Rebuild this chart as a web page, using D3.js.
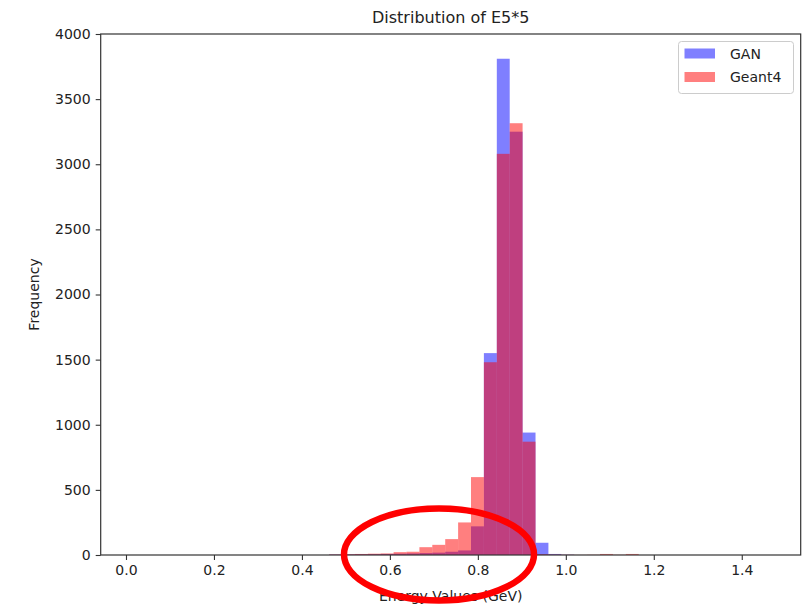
<!DOCTYPE html>
<html>
<head>
<meta charset="utf-8">
<script src="https://cdn.jsdelivr.net/npm/d3@7"></script>
<style>
  html, body { margin: 0; padding: 0; background: #fff; }
  svg { display: block; }
  text { font-family: "DejaVu Sans", sans-serif; fill: #222; }
</style>
</head>
<body>
<svg id="chart" width="802" height="605"></svg>
<script>
// ---- data ----
const binEdges = [0.4618, 0.4911, 0.5204, 0.5498, 0.5791, 0.6084, 0.6378, 0.6671, 0.6964,
  0.7258, 0.7551, 0.7844, 0.8137, 0.8431, 0.8724, 0.9017, 0.9311, 0.9604, 0.9897,
  1.0191, 1.0484, 1.0777, 1.1071, 1.1364, 1.1657, 1.1950];
const ganCounts = [3, 4, 5, 6, 8, 10, 12, 15, 18, 25, 35, 220, 1550, 3810, 3250, 940, 94, 8, 2, 0, 0, 0, 0, 0, 0];
const geantCounts = [4, 6, 8, 10, 12, 22, 25, 60, 78, 122, 250, 598, 1480, 3080, 3315, 870, 6, 3, 2, 1, 2, 8, 2, 8, 0];
const xTicks = [0.0, 0.2, 0.4, 0.6, 0.8, 1.0, 1.2, 1.4];
const yTicks = [0, 500, 1000, 1500, 2000, 2500, 3000, 3500, 4000];
const seriesNames = ["GAN", "Geant4"];
const titleText = "Distribution of E5*5";
const xLabel = "Energy Values (GeV)";
const yLabel = "Frequency";

// ---- layout ----
const svg = d3.select("#chart");
const L = 100.7, R = 800.7, T = 34, B = 555;
const x = d3.scaleLinear().domain([-0.0575, 1.534]).range([L, R]);
const y = d3.scaleLinear().domain([0, 4000]).range([B, T]);
const colors = ["rgba(0,0,255,0.5)", "rgba(255,0,0,0.5)"];

svg.append("rect").attr("width", 802).attr("height", 605).attr("fill", "#fff");

const series = [ganCounts, geantCounts];
series.forEach((counts, si) => {
  const bins = counts.map((c, i) => ({x0: binEdges[i], x1: binEdges[i + 1], c})).filter(d => d.c > 0);
  svg.append("g").selectAll("rect").data(bins).join("rect")
    .attr("x", d => x(d.x0))
    .attr("width", d => x(d.x1) - x(d.x0))
    .attr("y", d => y(d.c))
    .attr("height", d => y(0) - y(d.c))
    .attr("fill", colors[si]);
});

// axes
const xAxis = d3.axisBottom(x).tickValues(xTicks).tickFormat(d3.format(".1f")).tickSize(5).tickPadding(5);
const yAxis = d3.axisLeft(y).tickValues(yTicks).tickFormat(d3.format("d")).tickSize(5).tickPadding(5);
const gx = svg.append("g").attr("transform", `translate(0,${B})`).call(xAxis);
const gy = svg.append("g").attr("transform", `translate(${L},0)`).call(yAxis);
[gx, gy].forEach(g => {
  g.select(".domain").remove();
  g.selectAll(".tick line").attr("stroke", "#333").attr("stroke-width", 1.1);
  g.selectAll(".tick text").attr("font-size", 14).attr("fill", "#222").style("font-family", "DejaVu Sans, sans-serif");
});

// frame
svg.append("rect").attr("x", L).attr("y", T).attr("width", R - L).attr("height", B - T)
  .attr("fill", "none").attr("stroke", "#333").attr("stroke-width", 1.2);

// title & labels
svg.append("text").attr("x", (L + R) / 2).attr("y", 23).attr("text-anchor", "middle")
  .attr("font-size", 16).text(titleText);
svg.append("text").attr("x", (L + R) / 2).attr("y", 601).attr("text-anchor", "middle")
  .attr("font-size", 14).text(xLabel);
svg.append("text").attr("transform", `translate(39,${(T + B) / 2}) rotate(-90)`).attr("text-anchor", "middle")
  .attr("font-size", 14).text(yLabel);

// legend
const lg = svg.append("g");
lg.append("rect").attr("x", 678.5).attr("y", 41.5).attr("width", 115).attr("height", 52).attr("rx", 3)
  .attr("fill", "rgba(255,255,255,0.8)").attr("stroke", "#ccc").attr("stroke-width", 1);
seriesNames.forEach((n, i) => {
  lg.append("rect").attr("x", 684.5).attr("y", 48.5 + i * 23.5).attr("width", 30.5).attr("height", 10)
    .attr("fill", colors[i]);
  lg.append("text").attr("x", 730).attr("y", 58.5 + i * 23.5).attr("font-size", 14).text(n);
});

// red annotation ellipse
svg.append("ellipse").attr("cx", 439).attr("cy", 554.5).attr("rx", 95).attr("ry", 46)
  .attr("fill", "none").attr("stroke", "#ff0000").attr("stroke-width", 6.5);
</script>
</body>
</html>
